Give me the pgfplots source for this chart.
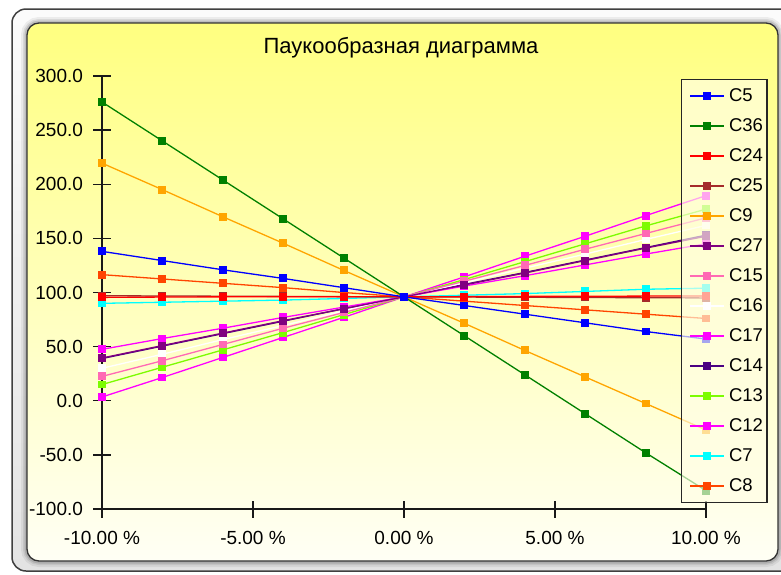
\documentclass[border=0pt]{standalone}
\usepackage{fontspec}
\setmainfont{Liberation Sans}
\usepackage{pgfplots}
\pgfplotsset{compat=1.18}
\definecolor{paneltop}{RGB}{255,255,128}
\definecolor{panelbot}{RGB}{255,255,245}
\definecolor{cC5}{RGB}{0,0,255}
\definecolor{cC36}{RGB}{0,128,0}
\definecolor{cC24}{RGB}{255,0,0}
\definecolor{cC25}{RGB}{165,42,42}
\definecolor{cC9}{RGB}{255,165,0}
\definecolor{cC27}{RGB}{128,0,128}
\definecolor{cC15}{RGB}{255,105,180}
\definecolor{cC16}{RGB}{255,255,255}
\definecolor{cC17}{RGB}{255,0,255}
\definecolor{cC14}{RGB}{75,0,130}
\definecolor{cC13}{RGB}{124,252,0}
\definecolor{cC12}{RGB}{255,0,255}
\definecolor{cC7}{RGB}{0,255,255}
\definecolor{cC8}{RGB}{255,69,0}
\begin{document}
\begin{tikzpicture}
\begin{scope}[x=1pt,y=1pt]
\path[use as bounding box] (0,0) rectangle (781,-574);
\begin{scope}
\clip (0,0) rectangle (781,-574);
\fill[white] (0,0) rectangle (781,-574);
\draw[line width=1.5pt, draw=black!75, rounded corners=14pt, top color=gray!3, bottom color=gray!22] (12,-9) rectangle (800,-571);
\foreach \w/\o in {12/0.06,8/0.08,5/0.12} \draw[line width=\w pt, black, opacity=\o, rounded corners=12pt] (27,-23) rectangle (778,-561);
\draw[line width=1.3pt, draw=black!80, rounded corners=12pt, top color=paneltop, bottom color=panelbot] (27,-23) rectangle (778,-561);
\end{scope}
\node[anchor=base, font=\fontsize{22}{26}\selectfont] at (401,-53) {Паукообразная диаграмма};
\end{scope}
\begin{axis}[
  at={(102pt,-509pt)}, anchor=south west,
  scale only axis, width=604pt, height=433pt,
  xmin=-10, xmax=10, ymin=-100, ymax=300,
  axis lines=left,
  axis line style={-, line width=1.4pt, black!90},
  xtick={-10,-5,0,5,10},
  ytick={-100,-50,0,50,100,150,200,250,300},
  tick align=center, major tick length=17pt,
  tick style={line width=1.4pt, black!90},
  /pgf/number format/assume math mode=true,
  xticklabel={\pgfmathprintnumber[fixed,fixed zerofill,precision=2]{\tick}~\%},
  yticklabel={\pgfmathprintnumber[fixed,fixed zerofill,precision=1]{\tick}},
  ticklabel style={font=\fontsize{19}{22}\selectfont},
  x tick label style={yshift=-10pt},
  y tick label style={xshift=-7pt},
  clip=false,
  every axis plot/.append style={line width=1.3pt, mark=square*, mark size=3.3pt, mark options={solid, fill opacity=1, draw opacity=1}},
  reverse legend,
  legend cell align=left,
  legend image code/.code={\path (0pt,0pt); \draw[mark repeat=2,mark phase=2] plot coordinates {(6pt,0pt) (23pt,0pt) (40pt,0pt)};},
  legend style={at={(0.9586,0.9931)}, anchor=north west, draw=black!85, line width=1.4pt,
    fill=yellow!10, fill opacity=0.65, text opacity=1, draw opacity=1,
    font=\fontsize{18.5}{22}\selectfont, row sep=11.6pt, inner xsep=2pt, inner ysep=7pt,
    /tikz/every odd column/.append style={column sep=2pt}},
]
\addplot[color=cC8] coordinates {(-10,116.5) (-8,112.5) (-6,108.5) (-4,104.5) (-2,100) (0,96) (2,92) (4,88) (6,84) (8,80) (10,76)};
\addlegendentry{C8}
\addplot[color=cC7] coordinates {(-10,90) (-8,91) (-6,92) (-4,93) (-2,94.5) (0,96) (2,97.5) (4,99) (6,101) (8,103) (10,104)};
\addlegendentry{C7}
\addplot[color=cC12] coordinates {(-10,3.5) (-8,21.5) (-6,40) (-4,58.5) (-2,77) (0,96) (2,114.5) (4,133.5) (6,152) (8,171) (10,189.5)};
\addlegendentry{C12}
\addplot[color=cC13] coordinates {(-10,15) (-8,31) (-6,47) (-4,63) (-2,79.5) (0,96) (2,112) (4,128.5) (6,145) (8,161.5) (10,177)};
\addlegendentry{C13}
\addplot[color=cC14] coordinates {(-10,39) (-8,50.5) (-6,62) (-4,73.5) (-2,85) (0,96) (2,107.5) (4,118.5) (6,130) (8,141.5) (10,153)};
\addlegendentry{C14}
\addplot[color=cC17] coordinates {(-10,47.5) (-8,57.5) (-6,67) (-4,77) (-2,86.5) (0,96) (2,106) (4,115.5) (6,125.5) (8,135.5) (10,145)};
\addlegendentry{C17}
\addplot[color=cC16] coordinates {(-10,30) (-8,43) (-6,56.5) (-4,69.5) (-2,83) (0,96) (2,109) (4,122.5) (6,135.5) (8,149) (10,162)};
\addlegendentry{C16}
\addplot[color=cC15] coordinates {(-10,22.5) (-8,37) (-6,52) (-4,67) (-2,81.5) (0,96) (2,110.5) (4,125) (6,140) (8,154.5) (10,169)};
\addlegendentry{C15}
\addplot[color=cC27] coordinates {(-10,39.5) (-8,51) (-6,62.5) (-4,74) (-2,85) (0,96) (2,107) (4,118) (6,129.5) (8,141) (10,152)};
\addlegendentry{C27}
\addplot[color=cC9] coordinates {(-10,219.5) (-8,195) (-6,170) (-4,145.5) (-2,120.5) (0,96) (2,71.5) (4,46.5) (6,22) (8,-2.5) (10,-27)};
\addlegendentry{C9}
\addplot[color=cC25] coordinates {(-10,97) (-8,96.8) (-6,96.6) (-4,96.4) (-2,96.2) (0,96) (2,95.8) (4,95.6) (6,95.4) (8,95.2) (10,95)};
\addlegendentry{C25}
\addplot[color=cC24] coordinates {(-10,95.5) (-8,95.8) (-6,96) (-4,96) (-2,96) (0,96) (2,96.2) (4,96.4) (6,96.5) (8,96.7) (10,96.8)};
\addlegendentry{C24}
\addplot[color=cC36] coordinates {(-10,276) (-8,240) (-6,204) (-4,168) (-2,132) (0,96) (2,60) (4,24) (6,-12) (8,-48) (10,-83)};
\addlegendentry{C36}
\addplot[color=cC5] coordinates {(-10,138) (-8,129.5) (-6,121) (-4,113) (-2,104.5) (0,96) (2,88) (4,80) (6,72) (8,64) (10,57)};
\addlegendentry{C5}
\end{axis}
\end{tikzpicture}
\end{document}
